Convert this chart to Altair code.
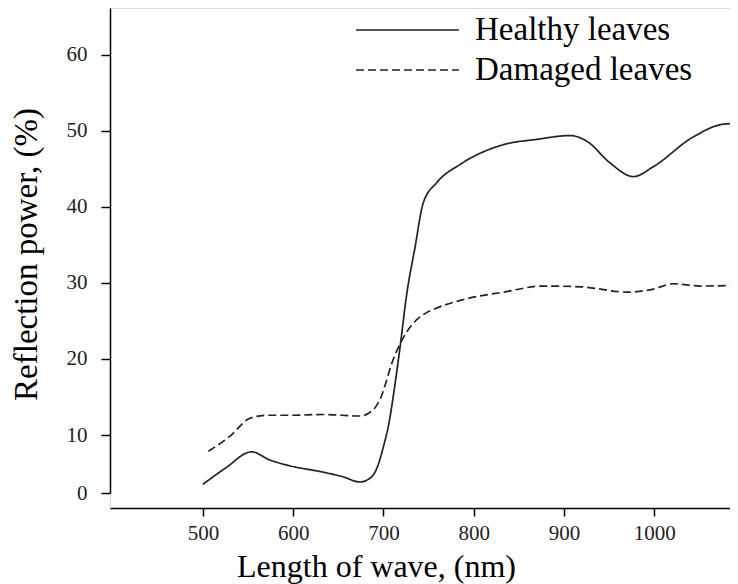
import altair as alt
import pandas as pd

# Healthy leaves (wavelength nm, reflection %)
healthy_x = [500, 525, 554, 574, 596, 633, 655, 674, 687, 694, 700, 706, 712, 718, 726, 735,
             744, 759, 785, 833, 870, 907, 926, 951, 977, 999, 1043, 1077, 1093]
healthy_y = [1.5, 4.3, 7.1, 5.7, 4.7, 3.6, 2.8, 1.9, 2.8, 4.8, 8.0, 11.5, 16.0, 21.2, 28.7, 34.7,
             40.5, 43.2, 45.6, 48.2, 48.9, 49.4, 48.6, 45.8, 44.0, 45.3, 49.2, 50.9, 51.0]

# Damaged leaves
damaged_x = [506, 530, 552, 571, 600, 633, 674, 684, 692, 698, 703, 708, 713, 718, 725, 733,
             745, 759, 788, 833, 877, 918, 970, 999, 1021, 1051, 1093]
damaged_y = [7.2, 9.8, 12.2, 12.6, 12.6, 12.7, 12.5, 12.9, 13.8, 15.2, 17.0, 19.0, 20.6, 21.9,
             23.4, 24.7, 25.9, 26.7, 27.8, 28.8, 29.6, 29.5, 28.8, 29.2, 29.9, 29.6, 29.7]

series = ["Healthy leaves", "Damaged leaves"]
x_ticks = [500, 600, 700, 800, 900, 1000]
y_ticks = [0, 10, 20, 30, 40, 50, 60]

rows = []
for i, (x, y) in enumerate(zip(healthy_x, healthy_y)):
    rows.append({"wave": x, "power": y, "series": series[0], "order": i})
for i, (x, y) in enumerate(zip(damaged_x, damaged_y)):
    rows.append({"wave": x, "power": y, "series": series[1], "order": i})
df = pd.DataFrame(rows)

FONT = "Liberation Serif"

chart = alt.Chart(df).mark_line(
    interpolate="monotone", strokeWidth=1.7, color="#222222", clip=True
).encode(
    x=alt.X(
        "wave:Q",
        scale=alt.Scale(domain=[397, 1084], nice=False, zero=False),
        axis=alt.Axis(
            values=x_ticks, format="d", title="Length of wave, (nm)", grid=False,
            domainColor="black", domainWidth=1.5, tickColor="black", tickWidth=1.5,
            tickSize=8, labelPadding=6, labelFont=FONT, labelFontSize=21,
            labelColor="#222222", titleFont=FONT, titleFontSize=32,
            titleFontWeight="normal", titleColor="black",
            titleX=266, titleY=68, titleBaseline="alphabetic", titleAlign="center",
            titleAnchor="start",
        ),
    ),
    y=alt.Y(
        "power:Q",
        scale=alt.Scale(domain=[0, 10, 66.18], range=[485, 427, 0], nice=False, zero=False),
        axis=alt.Axis(
            values=y_ticks, title="Reflection power, (%)", grid=False,
            domainColor="black", domainWidth=1.5, tickColor="black", tickWidth=1.5,
            tickSize=9, labelPadding=14, labelFont=FONT, labelFontSize=21,
            labelColor="#222222", titleFont=FONT, titleFontSize=33,
            titleFontWeight="normal", titleColor="black",
            titleAngle=-90, titleX=-74, titleY=246, titleBaseline="alphabetic",
            titleAlign="center", titleAnchor="start",
        ),
    ),
    strokeDash=alt.StrokeDash(
        "series:N",
        scale=alt.Scale(domain=series, range=[[1, 0], [8, 4]]),
        legend=alt.Legend(
            title=None, orient="none", legendX=245, legendY=2, padding=0,
            symbolType="stroke", symbolSize=10609, symbolStrokeWidth=1.7,
            symbolStrokeColor="#222222", clipHeight=40, rowPadding=0,
            labelOffset=15, labelFont=FONT, labelFontSize=33, labelColor="black",
            labelLimit=400,
        ),
    ),
    order="order:Q",
).properties(
    width=620,
    height=500,
    autosize=alt.AutoSizeParams(type="none"),
    padding={"left": 102, "top": 0, "right": 0, "bottom": 76},
).configure_view(stroke=None).configure(background="white")

chart.save("out.html", embed_options={"renderer": "svg", "actions": False})
